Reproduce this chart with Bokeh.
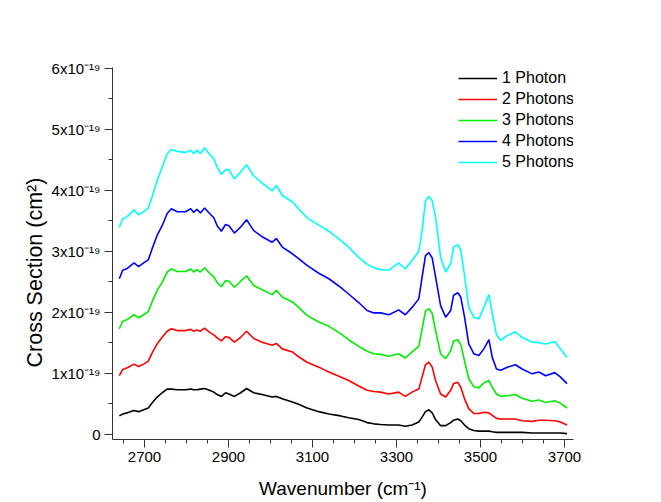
from bokeh.plotting import figure
from bokeh.models import FixedTicker, Legend, LegendItem, Title
from bokeh.embed import file_html
from bokeh.resources import INLINE

# Wavenumber grid (cm^-1)
wavenumber = [2640, 2648, 2659, 2675, 2686, 2698, 2709, 2718, 2730, 2742, 2754, 2764,
              2778, 2798, 2810, 2817, 2825, 2833, 2843, 2855, 2865, 2873, 2883, 2893,
              2901, 2914, 2929, 2943, 2960, 2980, 3004, 3014, 3028, 3052, 3067, 3087,
              3115, 3139, 3167, 3186, 3210, 3230, 3246, 3262, 3282, 3305, 3321, 3337,
              3353, 3361, 3369, 3377, 3385, 3393, 3405, 3417, 3429, 3436, 3446, 3453,
              3462, 3472, 3484, 3496, 3508, 3520, 3528, 3538, 3548, 3564, 3583, 3599,
              3623, 3639, 3655, 3677, 3690, 3706]

# Cross sections in units of 1e-19 cm^2
photon1 = [0.30, 0.33, 0.35, 0.39, 0.37, 0.40, 0.43, 0.51, 0.61, 0.68, 0.74, 0.74,
           0.73, 0.73, 0.74, 0.73, 0.73, 0.74, 0.75, 0.72, 0.69, 0.65, 0.62, 0.68,
           0.66, 0.62, 0.68, 0.75, 0.68, 0.65, 0.61, 0.62, 0.58, 0.53, 0.49, 0.43,
           0.37, 0.33, 0.30, 0.27, 0.24, 0.19, 0.17, 0.16, 0.15, 0.15, 0.13, 0.15,
           0.20, 0.28, 0.37, 0.40, 0.35, 0.24, 0.14, 0.14, 0.19, 0.23, 0.25, 0.22,
           0.15, 0.09, 0.06, 0.05, 0.05, 0.05, 0.04, 0.03, 0.03, 0.03, 0.03, 0.03,
           0.02, 0.02, 0.02, 0.02, 0.02, 0.01]

photon2 = [0.96, 1.06, 1.09, 1.15, 1.11, 1.15, 1.20, 1.33, 1.48, 1.59, 1.69, 1.73,
           1.70, 1.70, 1.72, 1.69, 1.71, 1.69, 1.74, 1.67, 1.63, 1.58, 1.53, 1.60,
           1.59, 1.51, 1.59, 1.69, 1.57, 1.51, 1.46, 1.49, 1.40, 1.35, 1.27, 1.18,
           1.10, 1.02, 0.94, 0.88, 0.79, 0.72, 0.70, 0.69, 0.66, 0.69, 0.62, 0.69,
           0.74, 0.94, 1.14, 1.18, 1.10, 0.88, 0.66, 0.61, 0.72, 0.83, 0.85, 0.77,
           0.58, 0.42, 0.34, 0.34, 0.36, 0.35, 0.31, 0.26, 0.25, 0.25, 0.25, 0.22,
           0.21, 0.23, 0.23, 0.22, 0.20, 0.15]

photon3 = [1.73, 1.85, 1.88, 1.96, 1.91, 1.96, 2.01, 2.17, 2.36, 2.49, 2.66, 2.71,
           2.67, 2.67, 2.71, 2.66, 2.70, 2.66, 2.73, 2.64, 2.58, 2.49, 2.42, 2.52,
           2.51, 2.41, 2.51, 2.60, 2.44, 2.37, 2.29, 2.36, 2.25, 2.17, 2.08, 1.95,
           1.84, 1.77, 1.65, 1.55, 1.44, 1.36, 1.32, 1.31, 1.28, 1.32, 1.25, 1.35,
           1.44, 1.73, 2.02, 2.06, 1.98, 1.70, 1.32, 1.24, 1.37, 1.53, 1.55, 1.47,
           1.20, 0.91, 0.78, 0.76, 0.84, 0.88, 0.77, 0.66, 0.62, 0.63, 0.65, 0.59,
           0.54, 0.56, 0.52, 0.55, 0.51, 0.43]

photon4 = [2.55, 2.69, 2.72, 2.81, 2.75, 2.81, 2.86, 3.04, 3.26, 3.42, 3.62, 3.70,
           3.65, 3.65, 3.70, 3.64, 3.69, 3.63, 3.71, 3.62, 3.55, 3.42, 3.33, 3.44,
           3.42, 3.30, 3.40, 3.52, 3.34, 3.24, 3.15, 3.21, 3.07, 2.96, 2.88, 2.77,
           2.64, 2.55, 2.41, 2.30, 2.16, 2.03, 1.99, 1.99, 1.96, 2.04, 1.96, 2.08,
           2.22, 2.58, 2.93, 2.98, 2.89, 2.58, 2.11, 1.92, 2.03, 2.28, 2.32, 2.25,
           1.92, 1.48, 1.32, 1.29, 1.40, 1.55, 1.26, 1.07, 1.05, 1.10, 1.14, 1.07,
           0.99, 1.02, 0.96, 1.01, 0.94, 0.83]

photon5 = [3.39, 3.53, 3.57, 3.68, 3.60, 3.65, 3.71, 3.89, 4.16, 4.38, 4.60, 4.67,
           4.64, 4.62, 4.66, 4.60, 4.66, 4.60, 4.70, 4.59, 4.52, 4.38, 4.26, 4.34,
           4.34, 4.19, 4.30, 4.42, 4.24, 4.12, 3.99, 4.08, 3.92, 3.81, 3.70, 3.55,
           3.43, 3.33, 3.18, 3.07, 2.90, 2.79, 2.73, 2.70, 2.69, 2.81, 2.71, 2.85,
           3.00, 3.34, 3.83, 3.90, 3.83, 3.56, 2.90, 2.66, 2.80, 3.07, 3.11, 3.02,
           2.60, 2.08, 1.92, 1.89, 2.08, 2.29, 1.98, 1.63, 1.54, 1.62, 1.68, 1.59,
           1.51, 1.50, 1.48, 1.52, 1.40, 1.26]

series_labels = ["1 Photon", "2 Photons", "3 Photons", "4 Photons", "5 Photons"]
series_colors = ["#000000", "#FF0000", "#00EE00", "#0000FF", "#00FFFF"]

x_major = [2700, 2900, 3100, 3300, 3500, 3700]
x_minor = list(range(2650, 3701, 50))
y_major = [0, 1, 2, 3, 4, 5, 6]
y_minor = [0.5, 1.5, 2.5, 3.5, 4.5, 5.5]
y_tick_labels = {0: "0", 1: "1x10\u207b\u00b9\u2079", 2: "2x10\u207b\u00b9\u2079",
                 3: "3x10\u207b\u00b9\u2079", 4: "4x10\u207b\u00b9\u2079",
                 5: "5x10\u207b\u00b9\u2079", 6: "6x10\u207b\u00b9\u2079"}

FONT = "Liberation Sans"

p = figure(width=661, height=502, output_backend="svg", toolbar_location=None,
           x_range=(2623.8, 3721.4), y_range=(-0.087, 6.016))
p.min_border_left = 112
p.min_border_right = 88
p.min_border_top = 67
p.min_border_bottom = 63
p.outline_line_color = None
p.xgrid.visible = False
p.ygrid.visible = False
p.background_fill_color = "white"
p.border_fill_color = "white"

renderers = []
for ys, c in zip([photon1, photon2, photon3, photon4, photon5], series_colors):
    r = p.line(wavenumber, ys, line_color=c, line_width=1.6)
    renderers.append(r)

for ax in (p.xaxis[0], p.yaxis[0]):
    ax.axis_line_color = "#333333"
    ax.axis_line_width = 1
    ax.major_tick_line_color = "#333333"
    ax.minor_tick_line_color = "#333333"
    ax.major_tick_in = 0
    ax.major_tick_out = 8
    ax.minor_tick_in = 0
    ax.minor_tick_out = 4
    ax.major_label_text_font = FONT
    ax.major_label_text_font_size = "15px"
    ax.major_label_text_color = "#000000"

p.xaxis[0].ticker = FixedTicker(ticks=x_major, minor_ticks=x_minor)
p.yaxis[0].ticker = FixedTicker(ticks=y_major, minor_ticks=y_minor)
p.yaxis[0].major_label_overrides = y_tick_labels
p.xaxis[0].major_label_standoff = 4
p.yaxis[0].major_label_standoff = 4

# X axis title
p.xaxis[0].axis_label = "Wavenumber (cm\u207b\u00b9)"
p.xaxis[0].axis_label_text_font = FONT
p.xaxis[0].axis_label_text_font_size = "19px"
p.xaxis[0].axis_label_text_font_style = "normal"
p.xaxis[0].axis_label_text_color = "#000000"
p.xaxis[0].axis_label_standoff = 13

# Y axis title as a left-side title (shifted down like the reference)
ytitle = Title(text="Cross Section (cm\u00b2)", align="left", offset=72,
               text_font=FONT, text_font_size="21.5px", text_font_style="normal",
               text_color="#000000", standoff=4)
p.add_layout(ytitle, "left")

legend = Legend(items=[LegendItem(label=l, renderers=[r]) for l, r in zip(series_labels, renderers)],
                location=(346, 267))
legend.glyph_width = 39
legend.glyph_height = 20
legend.label_height = 20
legend.spacing = 1
legend.padding = 0
legend.margin = 0
legend.label_standoff = 5
legend.border_line_color = None
legend.background_fill_alpha = 0
legend.label_text_font = FONT
legend.label_text_font_size = "16px"
legend.label_text_color = "#000000"
p.add_layout(legend)

open("out.html", "w").write(file_html(p, INLINE))
